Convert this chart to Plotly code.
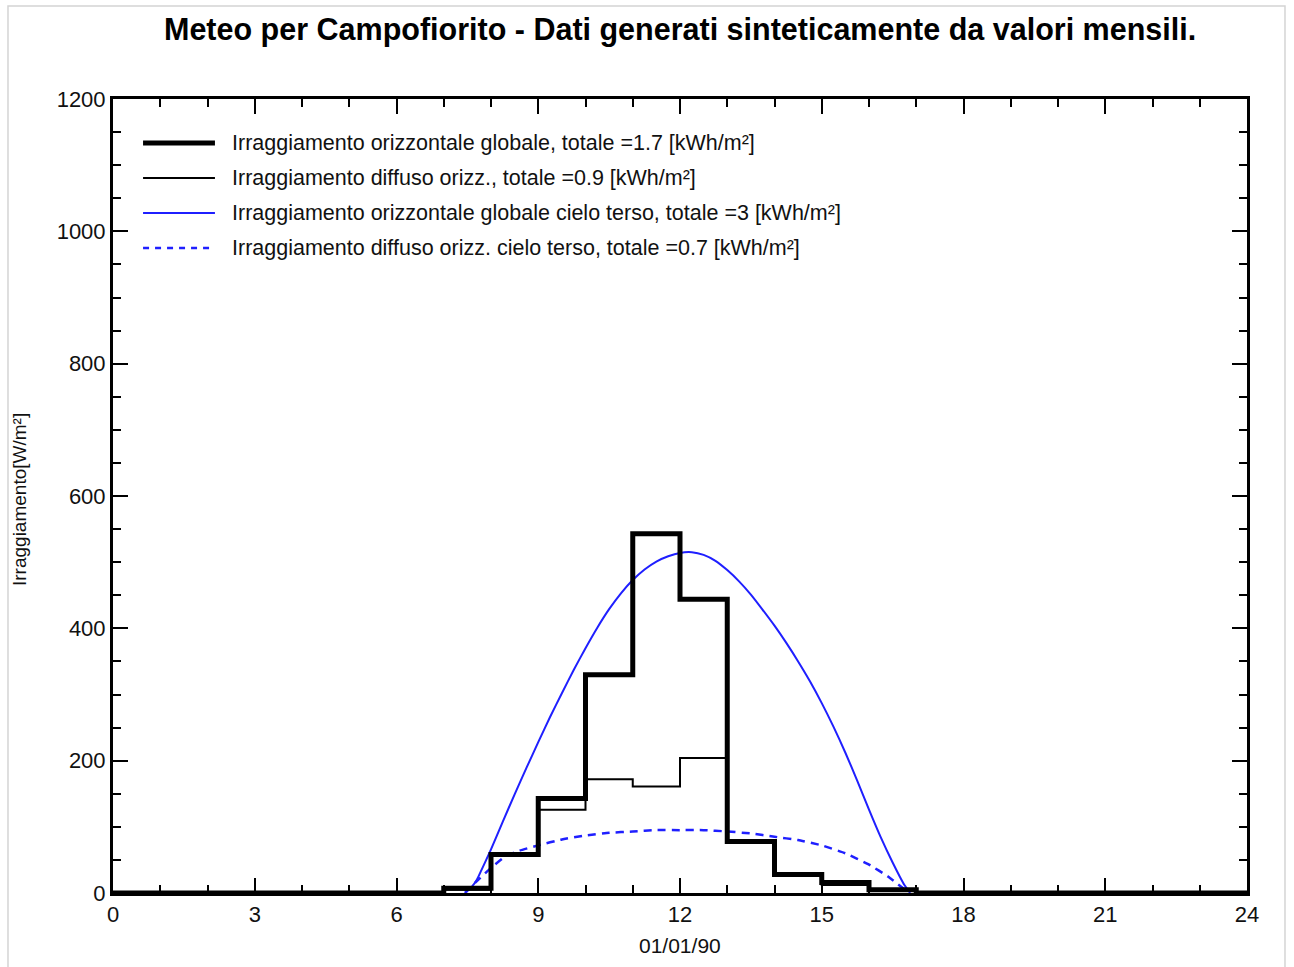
import plotly.graph_objects as go

# Hourly totals for the day (hour h covers h..h+1), W/m²
hours = list(range(25))
global_horiz = [0, 0, 0, 0, 0, 0, 0, 7, 58, 143, 330, 543, 444, 78, 28, 16, 5,
                0, 0, 0, 0, 0, 0, 0]
diffuse_horiz = [0, 0, 0, 0, 0, 0, 0, 5, 57, 126, 172, 161, 204, 78, 28, 12, 4,
                 0, 0, 0, 0, 0, 0, 0]

# Clear-sky profiles
clear_t = [7.45, 7.6, 7.7, 7.8, 8.0, 8.25, 8.5, 8.75, 9.0, 9.25, 9.5, 9.75,
           10.0, 10.25, 10.5, 10.75, 11.0, 11.25, 11.5, 11.75, 12.0, 12.25,
           12.5, 12.75, 13.0, 13.25, 13.5, 13.75, 14.0, 14.25, 14.5, 14.75,
           15.0, 15.25, 15.5, 15.75, 16.0, 16.25, 16.5, 16.65, 16.75, 16.87]
clear_global = [0, 10, 20, 35, 66, 108, 149, 189, 228, 266, 302, 337,
                370, 401, 429, 453, 473, 489, 501, 509, 514, 515,
                511, 502, 488, 471, 451, 428, 404, 378, 350, 320,
                287, 251, 212, 170, 126, 84, 46, 25, 12, 0]
diff_t = [7.45, 7.7, 8.0, 8.3, 8.6, 9.0, 9.5, 10.0, 10.5, 11.0, 11.5, 12.0,
          12.5, 13.0, 13.5, 14.0, 14.5, 15.0, 15.5, 16.0, 16.4, 16.85]
clear_diffuse = [0, 18, 38, 55, 64, 72, 81, 87, 91, 93, 95, 95,
                 95, 93, 90, 85, 80, 72, 60, 43, 25, 0]

x_ticks = [0, 3, 6, 9, 12, 15, 18, 21, 24]
y_ticks = [0, 200, 400, 600, 800, 1000, 1200]

legend_labels = [
    "Irraggiamento orizzontale globale, totale =1.7 [kWh/m²]",
    "Irraggiamento diffuso orizz., totale =0.9 [kWh/m²]",
    "Irraggiamento orizzontale globale cielo terso, totale =3 [kWh/m²]",
    "Irraggiamento diffuso orizz. cielo terso, totale =0.7 [kWh/m²]",
]

FONT = "Liberation Sans, Arial, sans-serif"
BLUE = "#1f1fff"

fig = go.Figure()

fig.add_trace(go.Scatter(x=clear_t, y=clear_global, mode="lines",
                         line=dict(color=BLUE, width=2, shape="spline", smoothing=0.6)))
fig.add_trace(go.Scatter(x=diff_t, y=clear_diffuse, mode="lines",
                         line=dict(color=BLUE, width=2.5, dash="8px,6px", shape="spline", smoothing=0.4)))
fig.add_trace(go.Scatter(x=hours, y=diffuse_horiz + [diffuse_horiz[-1]], mode="lines",
                         line=dict(color="black", width=2, shape="hv")))
fig.add_trace(go.Scatter(x=hours, y=global_horiz + [global_horiz[-1]], mode="lines",
                         line=dict(color="black", width=5, shape="hv")))

# Hand-drawn legend with long line samples
styles = [dict(color="black", width=5), dict(color="black", width=2),
          dict(color=BLUE, width=2), dict(color=BLUE, width=2.5, dash="6px,6px")]
row_y = [0.9446, 0.9005, 0.8564, 0.8123]
for lab, st, yy in zip(legend_labels, styles, row_y):
    fig.add_shape(type="line", xref="paper", yref="paper", x0=0.0265, x1=0.0899,
                  y0=yy, y1=yy, line=st)
    fig.add_annotation(xref="paper", yref="paper", x=0.1032, y=yy, text=lab,
                       showarrow=False, xanchor="left", yanchor="middle",
                       font=dict(family=FONT, size=21.5, color="#111"))

# Page frame
fig.add_shape(type="rect", xref="paper", yref="paper", x0=-0.0926, x1=1.0335,
              y0=-0.12, y1=1.117, line=dict(color="#d4d4d4", width=1.5), layer="below")

fig.add_annotation(xref="paper", yref="paper", x=0.5, y=1.087,
                   text="<b>Meteo per Campofiorito - Dati generati sinteticamente da valori mensili.</b>",
                   showarrow=False, xanchor="center", yanchor="middle",
                   font=dict(family=FONT, size=30.5, color="black"))
fig.add_annotation(xref="paper", yref="paper", x=0.5, y=-0.0655, text="01/01/90",
                   showarrow=False, xanchor="center", yanchor="middle",
                   font=dict(family=FONT, size=21, color="#111"))
fig.add_annotation(xref="paper", yref="paper", x=-0.082, y=0.495, text="Irraggiamento[W/m²]",
                   textangle=-90, showarrow=False, xanchor="center", yanchor="middle",
                   font=dict(family=FONT, size=19, color="#111"))

axis_common = dict(showline=True, linecolor="black", linewidth=3, mirror="ticks",
                   ticks="inside", tickcolor="black", tickwidth=2, ticklen=15,
                   showgrid=False, zeroline=False,
                   tickfont=dict(family=FONT, size=22, color="#111"))
fig.update_xaxes(range=[0, 24], tickvals=x_ticks, ticktext=[str(v) for v in x_ticks],
                 minor=dict(ticks="inside", ticklen=8, tickwidth=2, tickcolor="black", dtick=1,
                            tick0=0, showgrid=False),
                 **axis_common)
fig.update_yaxes(range=[0, 1200], tickvals=y_ticks, ticktext=[str(v) for v in y_ticks],
                 minor=dict(ticks="inside", ticklen=8, tickwidth=2, tickcolor="black", dtick=50,
                            tick0=0, showgrid=False),
                 **axis_common)

fig.update_layout(width=1294, height=967, showlegend=False,
                  margin=dict(l=113, r=47, t=99, b=74),
                  paper_bgcolor="white", plot_bgcolor="white")

fig.write_html("out.html")
